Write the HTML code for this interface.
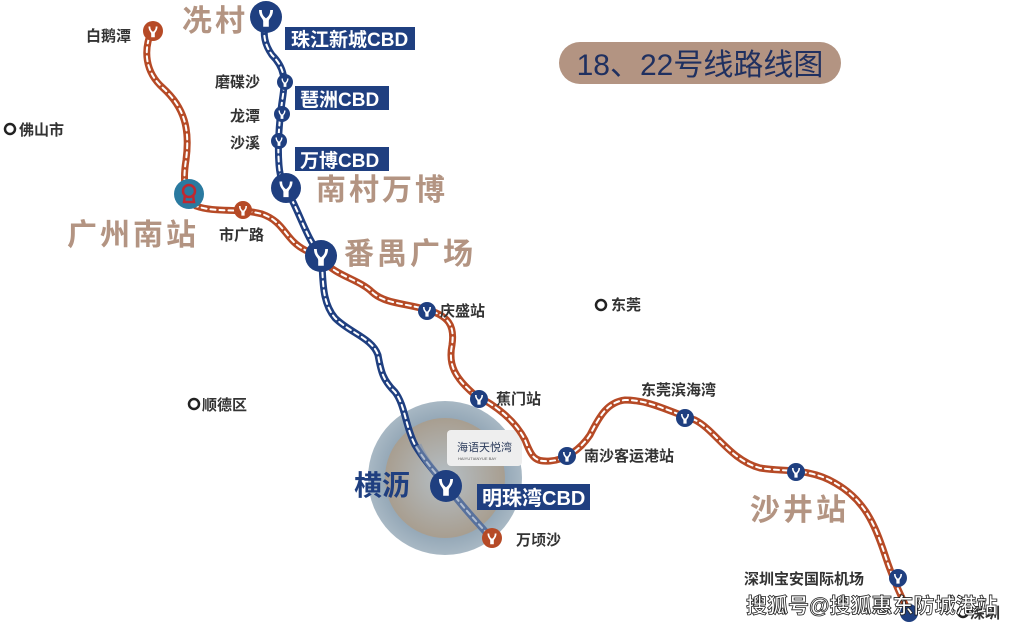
<!DOCTYPE html>
<html><head><meta charset="utf-8"><style>
body{margin:0;background:#fff}
svg{display:block}
text{font-family:"Liberation Sans","Noto Sans CJK SC",sans-serif}
</style></head><body>
<svg width="1011" height="626" viewBox="0 0 1011 626" xmlns="http://www.w3.org/2000/svg">
<defs>
<symbol id="y" viewBox="-10 -10 20 20"><path d="M-5,-5 C-5,0 -2,1 -2,3 L-2,7 L2,7 L2,3 C2,1 5,0 5,-5 L3,-5 C3,-1 1,0 0,1 C-1,0 -3,-1 -3,-5 Z" fill="#fff"/></symbol>
<radialGradient id="g1" cx="50%" cy="50%" r="50%"><stop offset="0.7" stop-color="#8fa3b3"/><stop offset="1" stop-color="#a8b8c4"/></radialGradient>
<radialGradient id="g2" cx="50%" cy="50%" r="50%"><stop offset="0" stop-color="#b5bfc6"/><stop offset="1" stop-color="#a89e90"/></radialGradient>
</defs>
<!-- big circle -->
<circle cx="445" cy="478" r="77" fill="url(#g1)"/>
<circle cx="445" cy="478" r="60" fill="url(#g2)"/>
<rect x="447" y="430" width="75" height="36" rx="4" fill="#eeeeee"/>
<text x="457" y="451" font-size="11" fill="#2a3a5a">海语天悦湾</text>
<text x="458" y="460" font-size="4" fill="#555">HAIYUTIANYUE BAY</text>

<!-- orange line 22 -->
<g fill="none" stroke-linecap="round" stroke-linejoin="round">
<path id="o" d="M152,30 C143,50 145,72 163,88 C185,108 190,130 186,160 C182,185 186,198 196,206 C215,213 240,208 262,214 C285,222 285,240 305,250 C315,255 320,256 325,262 C335,275 360,280 372,292 C385,304 405,303 428,310 C448,316 455,325 452,345 C448,365 455,378 475,395 C495,405 515,420 525,440 C532,458 535,462 550,461 C565,460 580,450 590,435 C600,415 608,402 625,400 C650,400 670,412 695,420 C715,430 730,460 760,468 C785,472 810,468 835,483 C865,500 875,525 885,555 C893,580 903,600 910,615" stroke="#b64a26" stroke-width="7"/>
<path d="M152,30 C143,50 145,72 163,88 C185,108 190,130 186,160 C182,185 186,198 196,206 C215,213 240,208 262,214 C285,222 285,240 305,250 C315,255 320,256 325,262 C335,275 360,280 372,292 C385,304 405,303 428,310 C448,316 455,325 452,345 C448,365 455,378 475,395 C495,405 515,420 525,440 C532,458 535,462 550,461 C565,460 580,450 590,435 C600,415 608,402 625,400 C650,400 670,412 695,420 C715,430 730,460 760,468 C785,472 810,468 835,483 C865,500 875,525 885,555 C893,580 903,600 910,615" stroke="#fff" stroke-width="2" stroke-dasharray="5 4"/>
<!-- blue line 18 -->
<path d="M266,18 C262,35 265,45 272,55 C285,68 285,80 283,95 C280,115 277,140 279,165 C280,180 285,190 292,200 C302,220 308,240 321,256 C324,275 320,300 335,318 C350,333 372,338 378,355 C381,372 383,380 395,392 C405,405 405,425 415,445 C425,462 440,478 450,490 C465,510 480,525 490,537" stroke="#1f3f80" stroke-width="7"/>
<path d="M266,18 C262,35 265,45 272,55 C285,68 285,80 283,95 C280,115 277,140 279,165 C280,180 285,190 292,200 C302,220 308,240 321,256 C324,275 320,300 335,318 C350,333 372,338 378,355 C381,372 383,380 395,392 C405,405 405,425 415,445 C425,462 440,478 450,490 C465,510 480,525 490,537" stroke="#fff" stroke-width="2" stroke-dasharray="5 4"/>
</g>
<path d="M418,445 C425,462 440,478 450,490 C465,510 480,525 490,537" fill="none" stroke="#7f93b0" stroke-width="7" opacity="0.6"/>

<!-- stations blue -->
<g fill="#1f3f80">
<circle cx="266" cy="17" r="16"/><circle cx="285" cy="82" r="8"/><circle cx="282" cy="114" r="8"/><circle cx="279" cy="141" r="8"/>
<circle cx="286" cy="188" r="15"/><circle cx="321" cy="256" r="16"/><circle cx="427" cy="311" r="9"/><circle cx="479" cy="399" r="9"/>
<circle cx="567" cy="456" r="9"/><circle cx="685" cy="418" r="9"/><circle cx="796" cy="472" r="9"/><circle cx="898" cy="578" r="9"/>
<circle cx="909" cy="613" r="9"/><circle cx="446" cy="486" r="16"/>
</g>
<g fill="#b64a26"><circle cx="153" cy="31" r="10"/><circle cx="243" cy="210" r="9"/><circle cx="492" cy="538" r="10"/></g>
<use href="#y" x="252" y="3" width="28" height="28"/><use href="#y" x="278" y="75" width="14" height="14"/><use href="#y" x="275" y="107" width="14" height="14"/><use href="#y" x="272" y="134" width="14" height="14"/>
<use href="#y" x="273" y="175" width="26" height="26"/><use href="#y" x="307" y="242" width="28" height="28"/><use href="#y" x="419" y="303" width="16" height="16"/><use href="#y" x="471" y="391" width="16" height="16"/>
<use href="#y" x="559" y="448" width="16" height="16"/><use href="#y" x="677" y="410" width="16" height="16"/><use href="#y" x="788" y="464" width="16" height="16"/><use href="#y" x="890" y="570" width="16" height="16"/>
<use href="#y" x="432" y="472" width="28" height="28"/><use href="#y" x="144" y="22" width="18" height="18"/><use href="#y" x="235" y="202" width="16" height="16"/><use href="#y" x="483" y="529" width="18" height="18"/>
<!-- GZ south -->
<circle cx="189" cy="194" r="15" fill="#2a7aa0"/>
<circle cx="189" cy="191" r="6" fill="none" stroke="#c02830" stroke-width="2.5"/>
<path d="M185,195 L184,202 L194,202 L193,195" fill="none" stroke="#c02830" stroke-width="2.5"/>

<!-- city dots -->
<g fill="none" stroke="#222" stroke-width="2.5"><circle cx="10" cy="129" r="5"/><circle cx="601" cy="305" r="5"/><circle cx="194" cy="404" r="5"/><circle cx="963" cy="612" r="5"/></g>

<!-- title -->
<rect x="559" y="42" width="282" height="42" rx="21" fill="#b39482"/>
<text x="700" y="75" font-size="30" fill="#1f3060" text-anchor="middle">18、22号线路线图</text>

<!-- blue label boxes -->
<g fill="#1f3f80"><rect x="285" y="27" width="130" height="23"/><rect x="295" y="86" width="94" height="24"/><rect x="295" y="147" width="94" height="24"/><rect x="477" y="484" width="113" height="26"/></g>
<g fill="#fff" font-weight="bold"><text x="291" y="46" font-size="19">珠江新城CBD</text><text x="300" y="106" font-size="19">琶洲CBD</text><text x="300" y="167" font-size="19">万博CBD</text><text x="482" y="505" font-size="20">明珠湾CBD</text></g>

<!-- big beige labels -->
<g fill="#b39482" font-weight="bold" font-size="30" letter-spacing="3"><text x="182" y="31">冼村</text><text x="316" y="200">南村万博</text><text x="344" y="264">番禺广场</text><text x="67" y="245">广州南站</text><text x="750" y="520">沙井站</text></g>
<text x="354" y="495" font-size="28" font-weight="bold" fill="#1f3f80">横沥</text>

<!-- small labels -->
<g fill="#333" font-size="15" font-weight="bold">
<text x="86" y="41">白鹅潭</text><text x="19" y="135">佛山市</text><text x="215" y="87">磨碟沙</text><text x="230" y="121">龙潭</text><text x="230" y="148">沙溪</text>
<text x="219" y="240">市广路</text><text x="440" y="316">庆盛站</text><text x="611" y="310">东莞</text><text x="202" y="410">顺德区</text><text x="496" y="404">蕉门站</text>
<text x="584" y="461">南沙客运港站</text><text x="641" y="395">东莞滨海湾</text><text x="516" y="545">万顷沙</text><text x="744" y="584">深圳宝安国际机场</text><text x="970" y="618">深圳</text>
</g>
<text x="746" y="613" font-size="21" font-weight="bold" fill="#fff" stroke="#222" stroke-width="0.8">搜狐号@搜狐惠东防城港站</text>
</svg>
</body></html>
